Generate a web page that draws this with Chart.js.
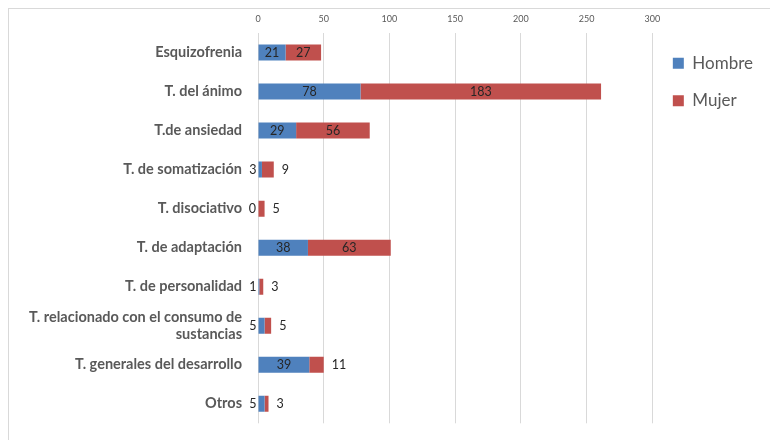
<!DOCTYPE html>
<html>
<head>
<meta charset="utf-8">
<script src="https://cdn.jsdelivr.net/npm/chart.js@4/dist/chart.umd.min.js"></script>
<style>
  html, body { margin: 0; padding: 0; background: #fff; }
  #wrap { position: relative; width: 770px; height: 440px; }
  #frame { position: absolute; left: 8px; top: 8px; right: 0; bottom: 0;
           border-top: 1px solid #d9d9d9; border-left: 1px solid #d9d9d9; }
  #myChart { position: absolute; left: 0; top: 0; }
</style>
</head>
<body>
<div id="wrap">
  <div id="frame"></div>
  <canvas id="myChart" width="770" height="440"></canvas>
</div>
<script>
// chart data
var categories = [
  'Esquizofrenia',
  'T. del ánimo',
  'T.de ansiedad',
  'T. de somatización',
  'T. disociativo',
  'T. de adaptación',
  'T. de personalidad',
  ['T. relacionado con el consumo de', 'sustancias'],
  'T. generales del desarrollo',
  'Otros'
];
var hombre = [21, 78, 29, 3, 0, 38, 1, 5, 39, 5];
var mujer = [27, 183, 56, 9, 5, 63, 3, 5, 11, 3];
var xTicks = [0, 50, 100, 150, 200, 250, 300];

var blue = '#4f81bd';
var red = '#c0504d';
var grey = '#595959';

// value labels: inside the segment when it fits, otherwise beside it
var barLabels = {
  id: 'barLabels',
  afterDatasetsDraw: function (chart) {
    var ctx = chart.ctx;
    ctx.save();
    ctx.font = '12.5px Lato';
    ctx.fillStyle = '#262626';
    ctx.textBaseline = 'middle';
    chart.data.datasets.forEach(function (dataset, di) {
      var meta = chart.getDatasetMeta(di);
      meta.data.forEach(function (bar, i) {
        var text = String(dataset.data[i]);
        var w = Math.abs(bar.x - bar.base);
        var tw = ctx.measureText(text).width;
        if (tw + 6 < w) {
          ctx.textAlign = 'center';
          ctx.fillText(text, (bar.x + bar.base) / 2, bar.y);
        } else if (di === 0) {
          ctx.textAlign = 'right';
          ctx.fillText(text, bar.base - 2, bar.y);
        } else {
          ctx.textAlign = 'left';
          ctx.fillText(text, bar.x + 8, bar.y);
        }
      });
    });
    ctx.restore();
  }
};

var chart = new Chart(document.getElementById('myChart'), {
  type: 'bar',
  data: {
    labels: categories,
    datasets: [
      { label: 'Hombre', data: hombre, backgroundColor: blue,
        barPercentage: 0.41, categoryPercentage: 1 },
      { label: 'Mujer', data: mujer, backgroundColor: red,
        barPercentage: 0.41, categoryPercentage: 1 }
    ]
  },
  options: {
    indexAxis: 'y',
    responsive: false,
    animation: false,
    layout: { padding: { top: 8, right: 7, bottom: 9, left: 0 } },
    scales: {
      x: {
        position: 'top',
        stacked: true,
        min: 0,
        max: 300,
        afterBuildTicks: function (scale) {
          scale.ticks = xTicks.map(function (v) { return { value: v }; });
        },
        afterFit: function (scale) { scale.height = 25; },
        grid: { color: '#d9d9d9', drawTicks: false },
        border: { display: false },
        ticks: { color: grey, font: { family: 'Lato', size: 9 }, padding: 9 }
      },
      y: {
        stacked: true,
        afterFit: function (scale) { scale.width = 258; },
        grid: { display: false },
        border: { display: false },
        ticks: { color: grey, padding: 8, font: { family: 'Lato', size: 14.5, weight: 'bold' } }
      }
    },
    plugins: {
      legend: {
        position: 'right',
        align: 'start',
        fullSize: false,
        title: { display: true, text: '', font: { size: 1 }, padding: 0 },
        labels: {
          boxWidth: 11,
          boxHeight: 11,
          padding: 20.5,
          color: grey,
          font: { family: 'Lato', size: 17 }
        }
      },
      tooltip: { enabled: false }
    }
  },
  plugins: [barLabels]
});
</script>
</body>
</html>
